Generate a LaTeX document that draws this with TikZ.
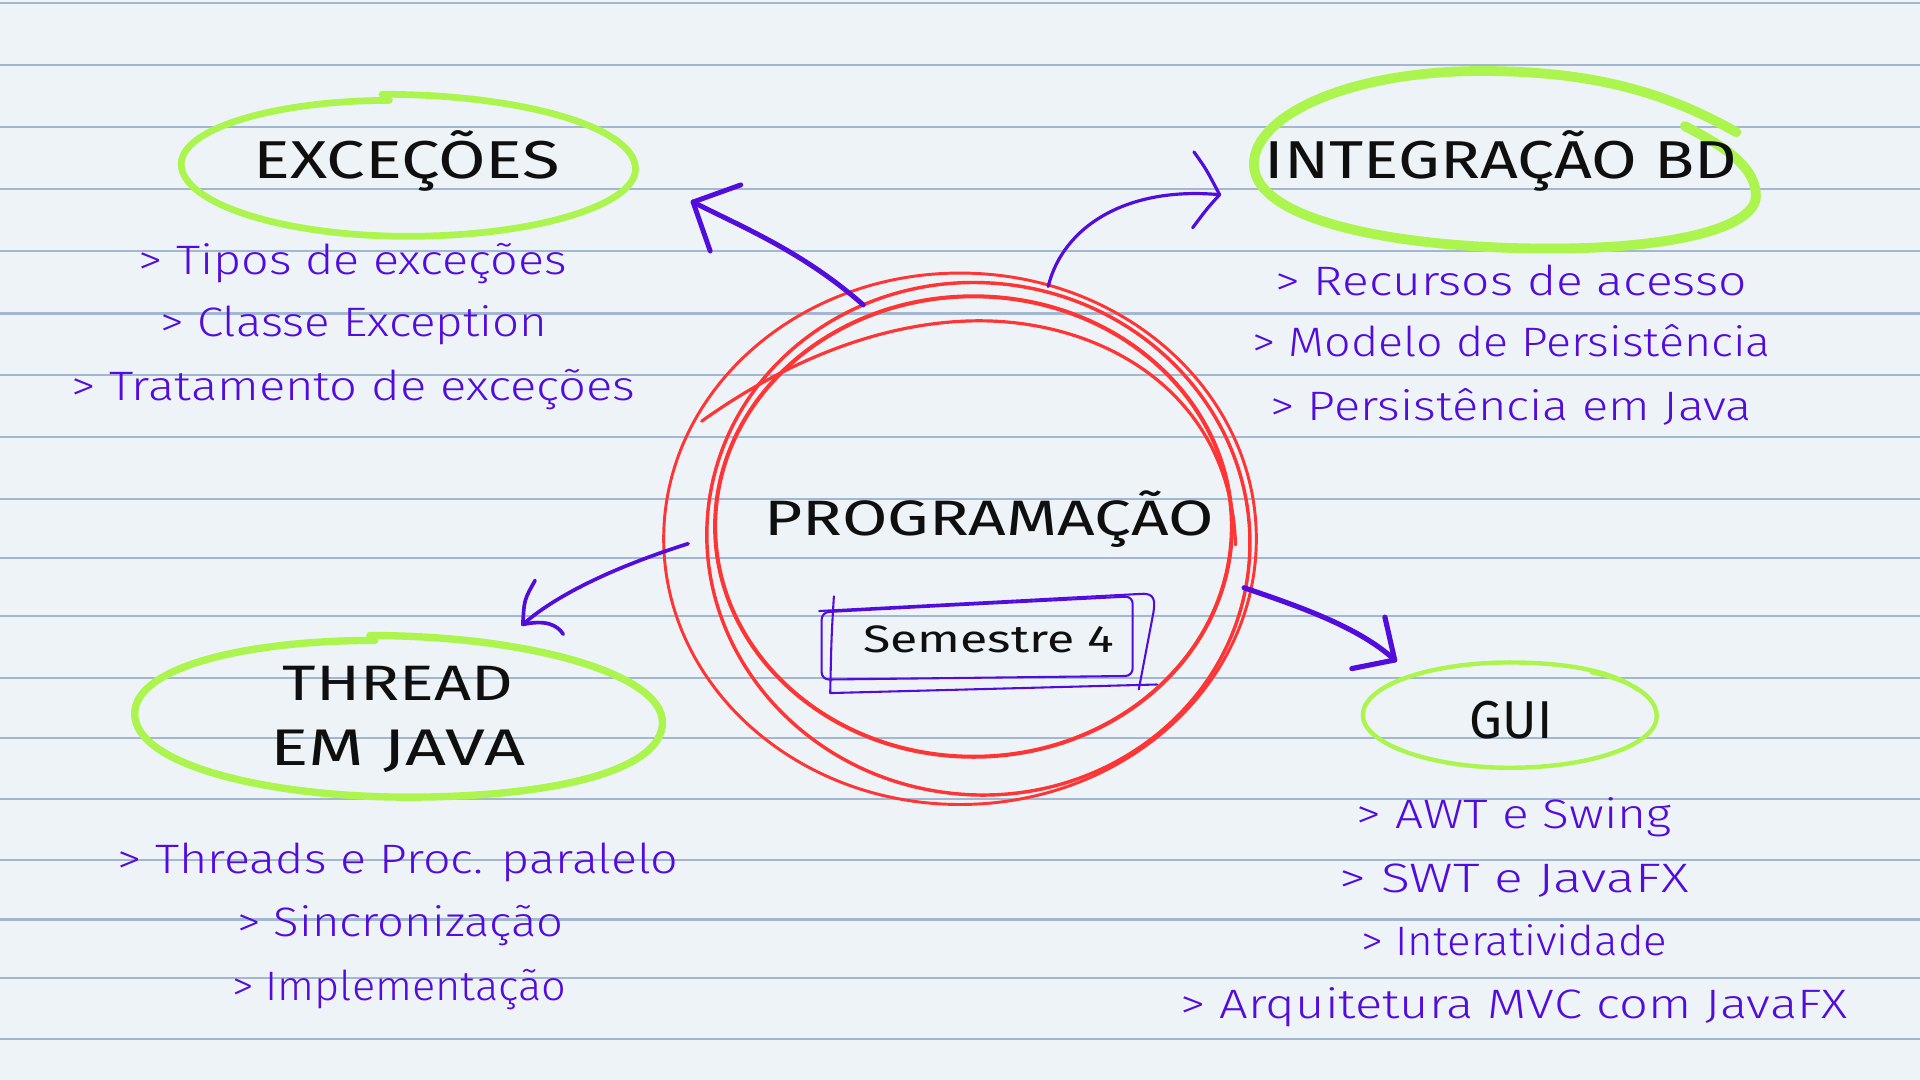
\documentclass[tikz,border=0pt]{standalone}
\usepackage{fontspec}
\usepackage{graphicx}
\setmainfont{Fira Sans}
\IfFontExistsTF{Fira Sans Light}{\newfontfamily\itemfont{Fira Sans Light}}{\newfontfamily\itemfont{Fira Sans}}
\definecolor{paper}{RGB}{238,243,247}
\definecolor{rulecol}{RGB}{164,183,208}
\definecolor{ink}{RGB}{82,12,222}
\definecolor{titleink}{RGB}{15,15,15}
\definecolor{lime}{RGB}{172,245,78}
\definecolor{redink}{RGB}{255,52,52}
\newlength\fitW
\newlength\fitH
% #1 target width, #2 target cap height, #3 text
\newcommand\fit[3]{%
  \settowidth\fitW{#3}\settoheight\fitH{H}%
  \pgfmathsetmacro\fitsx{#1/\fitW}\pgfmathsetmacro\fitsy{#2/\fitH}%
  \scalebox{\fitsx}[\fitsy]{#3}}
\begin{document}
\begin{tikzpicture}[x=1pt,y=-1pt,
  title/.style={font=\fontsize{20}{24}\selectfont, text=titleink, inner sep=0pt, anchor=base},
  item/.style={font=\itemfont\fontsize{20}{24}\selectfont, text=ink, inner sep=0pt, anchor=base},
  greenring/.style={draw=lime, line cap=round, line join=round},
  redring/.style={draw=redink, line cap=round},
  pen/.style={draw=ink, line cap=round, line join=round},
  boxpen/.style={draw=ink, line width=1.7pt, line cap=round, line join=round}]
\useasboundingbox (0,0) rectangle (1568,882);
% paper
\fill[paper] (0,0) rectangle (1568,882);
\foreach \yy in {2.8,53.4,104,154.7,205.3,256,306.6,357.1,407.8,455.6,503.4,554,603,652.5,702,750.9,798.7,848.2}
  \draw[rulecol, line width=1.7pt] (0,\yy) -- (1568,\yy);

% ---------- red rings ----------
\draw[redring, line width=2.4pt] (784,440) ellipse [x radius=242pt, y radius=217pt];
\draw[redring, line width=2.8pt, rotate around={-8:(799,440)}] (799,440) ellipse [x radius=222pt, y radius=209pt];
\draw[redring, line width=3.3pt] (795,430) ellipse [x radius=211pt, y radius=188pt];
\draw[redring, line width=2.6pt] (573,344) .. controls (640,296) and (720,262) .. (800,262)
      .. controls (900,262) and (1005,320) .. (1009,445);

% ---------- green rings ----------
\draw[greenring, line width=5.5pt] (312,77) .. controls (426,77) and (519,104) .. (519,138)
      .. controls (519,168) and (435,193) .. (333,193)
      .. controls (231,193) and (148,166) .. (148,134)
      .. controls (148,105) and (225,82) .. (318,82);
\draw[greenring, line width=8pt] (1418,108) .. controls (1360,75) and (1300,58) .. (1210,58)
      .. controls (1100,58) and (1024,95) .. (1024,134)
      .. controls (1024,180) and (1140,203) .. (1266,203)
      .. controls (1370,203) and (1434,185) .. (1434,160)
      .. controls (1434,135) and (1405,118) .. (1376,103);
\draw[greenring, line width=6pt] (302,519) .. controls (430,519) and (541,550) .. (541,590)
      .. controls (541,630) and (450,651) .. (333,651)
      .. controls (220,651) and (110,625) .. (110,583)
      .. controls (110,545) and (200,523) .. (306,523);
\draw[greenring, line width=3.6pt] (1300,549) .. controls (1333,556) and (1353,569) .. (1353,585)
      .. controls (1353,608) and (1300,627) .. (1233,627)
      .. controls (1167,627) and (1113,607) .. (1113,584)
      .. controls (1113,560) and (1167,541) .. (1233,541)
      .. controls (1285,541) and (1320,550) .. (1337,563);

% ---------- centre ----------
\node[title] (prog) at (808,437) {\fit{367}{28}{PROGRAMAÇÃO}};
\node[title] (sem) at (807.5,532.5) {\fit{205}{21.5}{Semestre 4}};
\draw[boxpen, rounded corners=6pt] (671,555) -- (671,500) -- (925,487) -- (925,552) -- cycle;
\draw[boxpen] (681,487) .. controls (679,520) .. (678,566) -- (945,559);
\draw[boxpen] (669,499) -- (932,485) .. controls (944,484) and (943,492) .. (942,500) -- (930,563);

% ---------- EXCECOES ----------
\node[title] (exc) at (332,146) {\fit{250}{30}{EXCEÇÕES}};
\node[item] (exc1) at (288,224) {\fit{350}{23}{> Tipos de exceções}};
\node[item] (exc2) at (289,275) {\fit{316}{23}{> Classe Exception}};
\node[item] (exc3) at (288.5,327) {\fit{461}{23}{> Tratamento de exceções}};

% ---------- INTEGRACAO BD ----------
\node[title] (bd) at (1226,146) {\fit{386}{30}{INTEGRAÇÃO BD}};
\node[item] (bd1) at (1234,241) {\fit{385}{23}{> Recursos de acesso}};
\node[item] (bd2) at (1234.5,291.5) {\fit{423}{23}{> Modelo de Persistência}};
\node[item] (bd3) at (1234,343) {\fit{393.5}{23}{> Persistência em Java}};

% ---------- THREAD ----------
\node[title] (th1) at (325,572) {\fit{188}{28}{THREAD}};
\node[title] (th2) at (325,625) {\fit{208}{29}{EM JAVA}};
\node[item] (th3) at (325,713) {\fit{458}{23}{> Threads e Proc. paralelo}};
\node[item] (th4) at (327,765) {\fit{266.6}{23}{> Sincronização}};
\node[item] (th5) at (326,817) {\fit{273}{23}{> Implementação}};

% ---------- GUI ----------
\node[title] (gui) at (1234,603) {\fit{67.5}{30}{GUI}};
\node[item] (gui1) at (1236.5,677) {\fit{257}{23}{> AWT e Swing}};
\node[item] (gui2) at (1236.5,728.5) {\fit{285}{23}{> SWT e JavaFX}};
\node[item] (gui3) at (1236.5,780) {\fit{250}{23}{> Interatividade}};
\node[item] (gui4) at (1236.5,832) {\fit{545}{23}{> Arquitetura MVC com JavaFX}};

% ---------- arrows ----------
\coordinate (a1s) at (705,249); \coordinate (a1t) at (566,165);
\coordinate (a1b1) at (605,151); \coordinate (a1b2) at (580,205);
\draw[pen, line width=4pt] (a1s) .. controls (655,205) and (605,185) .. (a1t);
\draw[pen, line width=4pt] (a1b1) -- (a1t) -- (a1b2);

\coordinate (a2s) at (856,234); \coordinate (a2t) at (996,159);
\coordinate (a2b1) at (975,124); \coordinate (a2b2) at (974,186);
\draw[pen, line width=2.6pt] (a2s) .. controls (868,185) and (920,152) .. (a2t);
\draw[pen, line width=2.6pt] (a2b1) .. controls (985,138) .. (a2t) .. controls (986,170) .. (a2b2);

\coordinate (a3s) at (562,444); \coordinate (a3t) at (427,510);
\coordinate (a3b1) at (437,474); \coordinate (a3b2) at (460,518);
\draw[pen, line width=3pt] (a3s) .. controls (505,462) and (455,485) .. (a3t);
\draw[pen, line width=3pt] (a3b1) .. controls (428,490) .. (a3t) .. controls (445,506) and (455,510) .. (a3b2);

\coordinate (a4s) at (1016,480); \coordinate (a4t) at (1139,539);
\coordinate (a4b1) at (1131,504); \coordinate (a4b2) at (1104,546);
\draw[pen, line width=4.2pt] (a4s) .. controls (1060,495) and (1110,512) .. (a4t);
\draw[pen, line width=4.2pt] (a4b1) -- (a4t) -- (a4b2);
\end{tikzpicture}
\end{document}
